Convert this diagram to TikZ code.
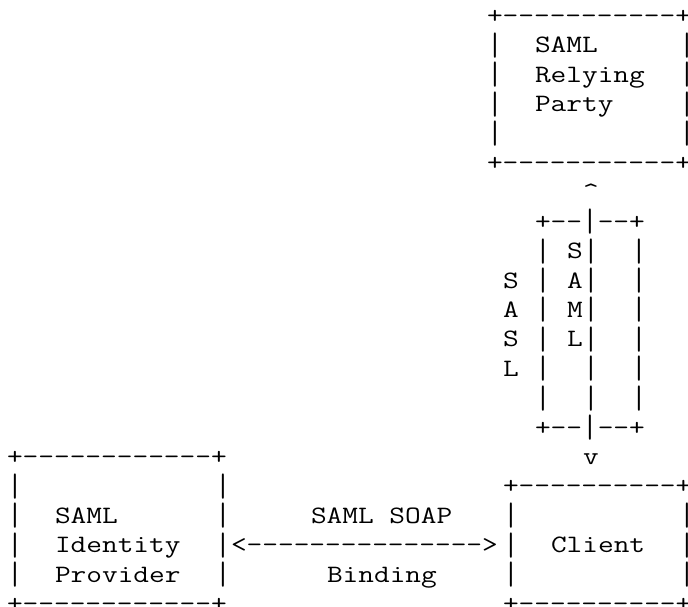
\documentclass[tikz,border=0pt]{standalone}
\usepackage{graphicx}
\tikzset{
  ch/.style={anchor=base west, inner sep=0pt, outer sep=0pt,
    font=\ttfamily\fontsize{30.48}{30}\selectfont}
}
\newcommand\dd[1]{\foreach\k in {1,...,#1}{-\kern0pt}}
\newcommand\vb{\raisebox{-3pt}{\scalebox{1}[1.3]{|}}}
\newcommand\putch[4]{\node[ch] (#1) at ({7+16*#2},{-(23.5+29.4*#3)}) {\scalebox{1}[0.82]{#4}};}
\begin{document}
\begin{tikzpicture}[x=1pt,y=1pt]
\useasboundingbox (0,0) rectangle (688,-607);
% SAML Relying Party box
\putch{rpT}{30}{0}{+\dd{11}+}
\foreach \r in {1,...,4}{
  \putch{rpL\r}{30}{\r}{\vb}
  \putch{rpR\r}{42}{\r}{\vb}
}
\putch{rpB}{30}{5}{+\dd{11}+}
\putch{rpA}{33}{1}{SAML}
\putch{rpB2}{33}{2}{Relying}
\putch{rpC}{33}{3}{Party}
% up arrow head
\putch{caret}{36}{6}{\textasciicircum}
% SASL / SAML tunnel
\putch{tT}{33}{7}{+\dd{2}\vb\dd{2}+}
\foreach \r in {8,...,13}{
  \putch{tL\r}{33}{\r}{\vb}
  \putch{tM\r}{36}{\r}{\vb}
  \putch{tR\r}{39}{\r}{\vb}
}
\putch{m1}{35}{8}{S}
\putch{m2}{35}{9}{A}
\putch{m3}{35}{10}{M}
\putch{m4}{35}{11}{L}
\putch{s1}{31}{9}{S}
\putch{s2}{31}{10}{A}
\putch{s3}{31}{11}{S}
\putch{s4}{31}{12}{L}
\putch{tB}{33}{14}{+\dd{2}\vb\dd{2}+}
\putch{vee}{36}{15}{v}
% SAML Identity Provider box
\putch{idT}{0}{15}{+\dd{12}+}
\foreach \r in {16,...,19}{
  \putch{idL\r}{0}{\r}{\vb}
  \putch{idR\r}{13}{\r}{\vb}
}
\putch{idB}{0}{20}{+\dd{12}+}
\putch{id1}{3}{17}{SAML}
\putch{id2}{3}{18}{Identity}
\putch{id3}{3}{19}{Provider}
% Client box
\putch{clT}{31}{16}{+\dd{10}+}
\foreach \r in {17,...,19}{
  \putch{clL\r}{31}{\r}{\vb}
  \putch{clR\r}{42}{\r}{\vb}
}
\putch{clB}{31}{20}{+\dd{10}+}
\putch{cl}{34}{18}{Client}
% SOAP binding arrow
\putch{arr}{14}{18}{<\dd{15}>}
\putch{soap}{19}{17}{SAML SOAP}
\putch{bind}{20}{19}{Binding}
\end{tikzpicture}
\end{document}
